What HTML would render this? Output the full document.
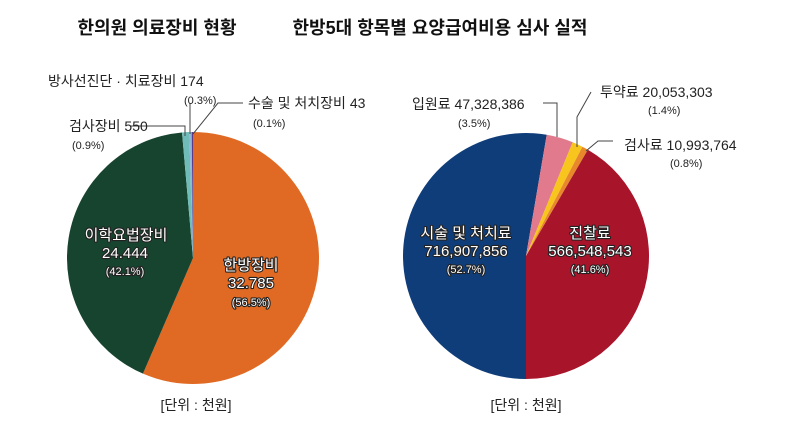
<!DOCTYPE html>
<html><head><meta charset="utf-8"><style>
html,body{margin:0;padding:0;background:#fff}
svg{display:block;font-family:"Liberation Sans","Noto Sans CJK KR",sans-serif}
.t{font-weight:bold;font-size:18px;fill:#111}
.l{font-size:14px;fill:#222}
.s{font-size:11px;fill:#222}
.in{fill:#fff;stroke:#222;stroke-width:2.2px;paint-order:stroke;stroke-linejoin:round}
</style></head><body>
<svg width="800" height="428" viewBox="0 0 800 428" xmlns="http://www.w3.org/2000/svg">
<rect width="800" height="428" fill="#fff"/>
<text class="t" x="157" y="34" text-anchor="middle">한의원 의료장비 현황</text>
<text class="t" x="440" y="34" text-anchor="middle">한방5대 항목별 요양급여비용 심사 실적</text>

<!-- left pie center 193,258 r126 -->
<g id="lp"></g>
<!-- right pie center 526,256 r123 -->
<g id="rp"></g>

<!-- left labels -->
<polyline points="131,126 185,126 185,136" fill="none" stroke="#444" stroke-width="1"/>
<line x1="190" y1="103" x2="190" y2="134" stroke="#444" stroke-width="1"/>
<polyline points="243,103 218,103 193,134" fill="none" stroke="#444" stroke-width="1"/>
<text class="l" x="48" y="86">방사선진단 · 치료장비 174</text>
<text class="s" x="184" y="104">(0.3%)</text>
<text class="l" x="248" y="108">수술 및 처치장비 43</text>
<text class="s" x="253" y="127">(0.1%)</text>
<text class="l" x="69" y="131">검사장비 550</text>
<text class="s" x="72" y="149">(0.9%)</text>
<text class="l in" x="126" y="240" text-anchor="middle" style="font-size:15px">이학요법장비</text>
<text class="l in" x="125" y="258" text-anchor="middle" style="font-size:15px">24.444</text>
<text class="s in" x="125" y="275" text-anchor="middle">(42.1%)</text>
<text class="l in" x="251" y="270" text-anchor="middle" style="font-size:15px">한방장비</text>
<text class="l in" x="251" y="288" text-anchor="middle" style="font-size:15px">32.785</text>
<text class="s in" x="251" y="306" text-anchor="middle">(56.5%)</text>
<text class="l" x="196" y="410" text-anchor="middle">[단위 : 천원]</text>

<!-- right labels -->
<polyline points="543,103 557,103 557,137" fill="none" stroke="#444" stroke-width="1"/>
<polyline points="591,92 577,117 577,147" fill="none" stroke="#444" stroke-width="1"/>
<polyline points="613,141 598,141 586,151" fill="none" stroke="#444" stroke-width="1"/>
<text class="l" x="412" y="109">입원료 47,328,386</text>
<text class="s" x="458" y="127">(3.5%)</text>
<text class="l" x="600" y="97">투약료 20,053,303</text>
<text class="s" x="648" y="114">(1.4%)</text>
<text class="l" x="624" y="150">검사료 10,993,764</text>
<text class="s" x="670" y="167">(0.8%)</text>
<text class="l in" x="466" y="238" text-anchor="middle" style="font-size:15px">시술 및 처치료</text>
<text class="l in" x="466" y="256" text-anchor="middle" style="font-size:15px">716,907,856</text>
<text class="s in" x="466" y="273" text-anchor="middle">(52.7%)</text>
<text class="l in" x="590" y="238" text-anchor="middle" style="font-size:15px">진찰료</text>
<text class="l in" x="590" y="256" text-anchor="middle" style="font-size:15px">566,548,543</text>
<text class="s in" x="590" y="273" text-anchor="middle">(41.6%)</text>
<text class="l" x="526" y="410" text-anchor="middle">[단위 : 천원]</text>
</svg>
<script>
function pie(id,cx,cy,r,sl){
 var g=document.getElementById(id),a=0,h='';
 sl.forEach(function(s){
  var a0=a*Math.PI/180,a1=(a+s[0])*Math.PI/180;
  var x0=cx+r*Math.sin(a0),y0=cy-r*Math.cos(a0),x1=cx+r*Math.sin(a1),y1=cy-r*Math.cos(a1);
  h+='<path d="M'+cx+','+cy+'L'+x0+','+y0+'A'+r+','+r+' 0 '+(s[0]>180?1:0)+' 1 '+x1+','+y1+'Z" fill="'+s[1]+'"/>';
  a+=s[0];
 });
 g.innerHTML=h;
}
pie('lp',193,258,126,[[203.4,'#e06a23'],[151.6,'#17442f'],[3.3,'#6fbcb8'],[1.1,'#8fb6d8'],[0.6,'#5b3a8c']]);
pie('rp',526,256,123,[[30.2,'#fff'],[149.8,'#a8142a'],[189.8,'#0f3d7a']]);
// redo right with correct start: blue from 180 to 369.7
(function(){
 var g=document.getElementById('rp'),cx=526,cy=256,r=123,h='';
 var sl=[[180,189.7,'#0f3d7a'],[9.7,12.6,'#e07a8c'],[22.3,5,'#f7c51e'],[27.3,2.9,'#e9882a'],[30.2,149.8,'#a8142a']];
 sl.forEach(function(s){
  var a0=s[0]*Math.PI/180,a1=(s[0]+s[1])*Math.PI/180;
  var x0=cx+r*Math.sin(a0),y0=cy-r*Math.cos(a0),x1=cx+r*Math.sin(a1),y1=cy-r*Math.cos(a1);
  h+='<path d="M'+cx+','+cy+'L'+x0+','+y0+'A'+r+','+r+' 0 '+(s[1]>180?1:0)+' 1 '+x1+','+y1+'Z" fill="'+s[2]+'"/>';
 });
 g.innerHTML=h;
})();
</script>
</body></html>
